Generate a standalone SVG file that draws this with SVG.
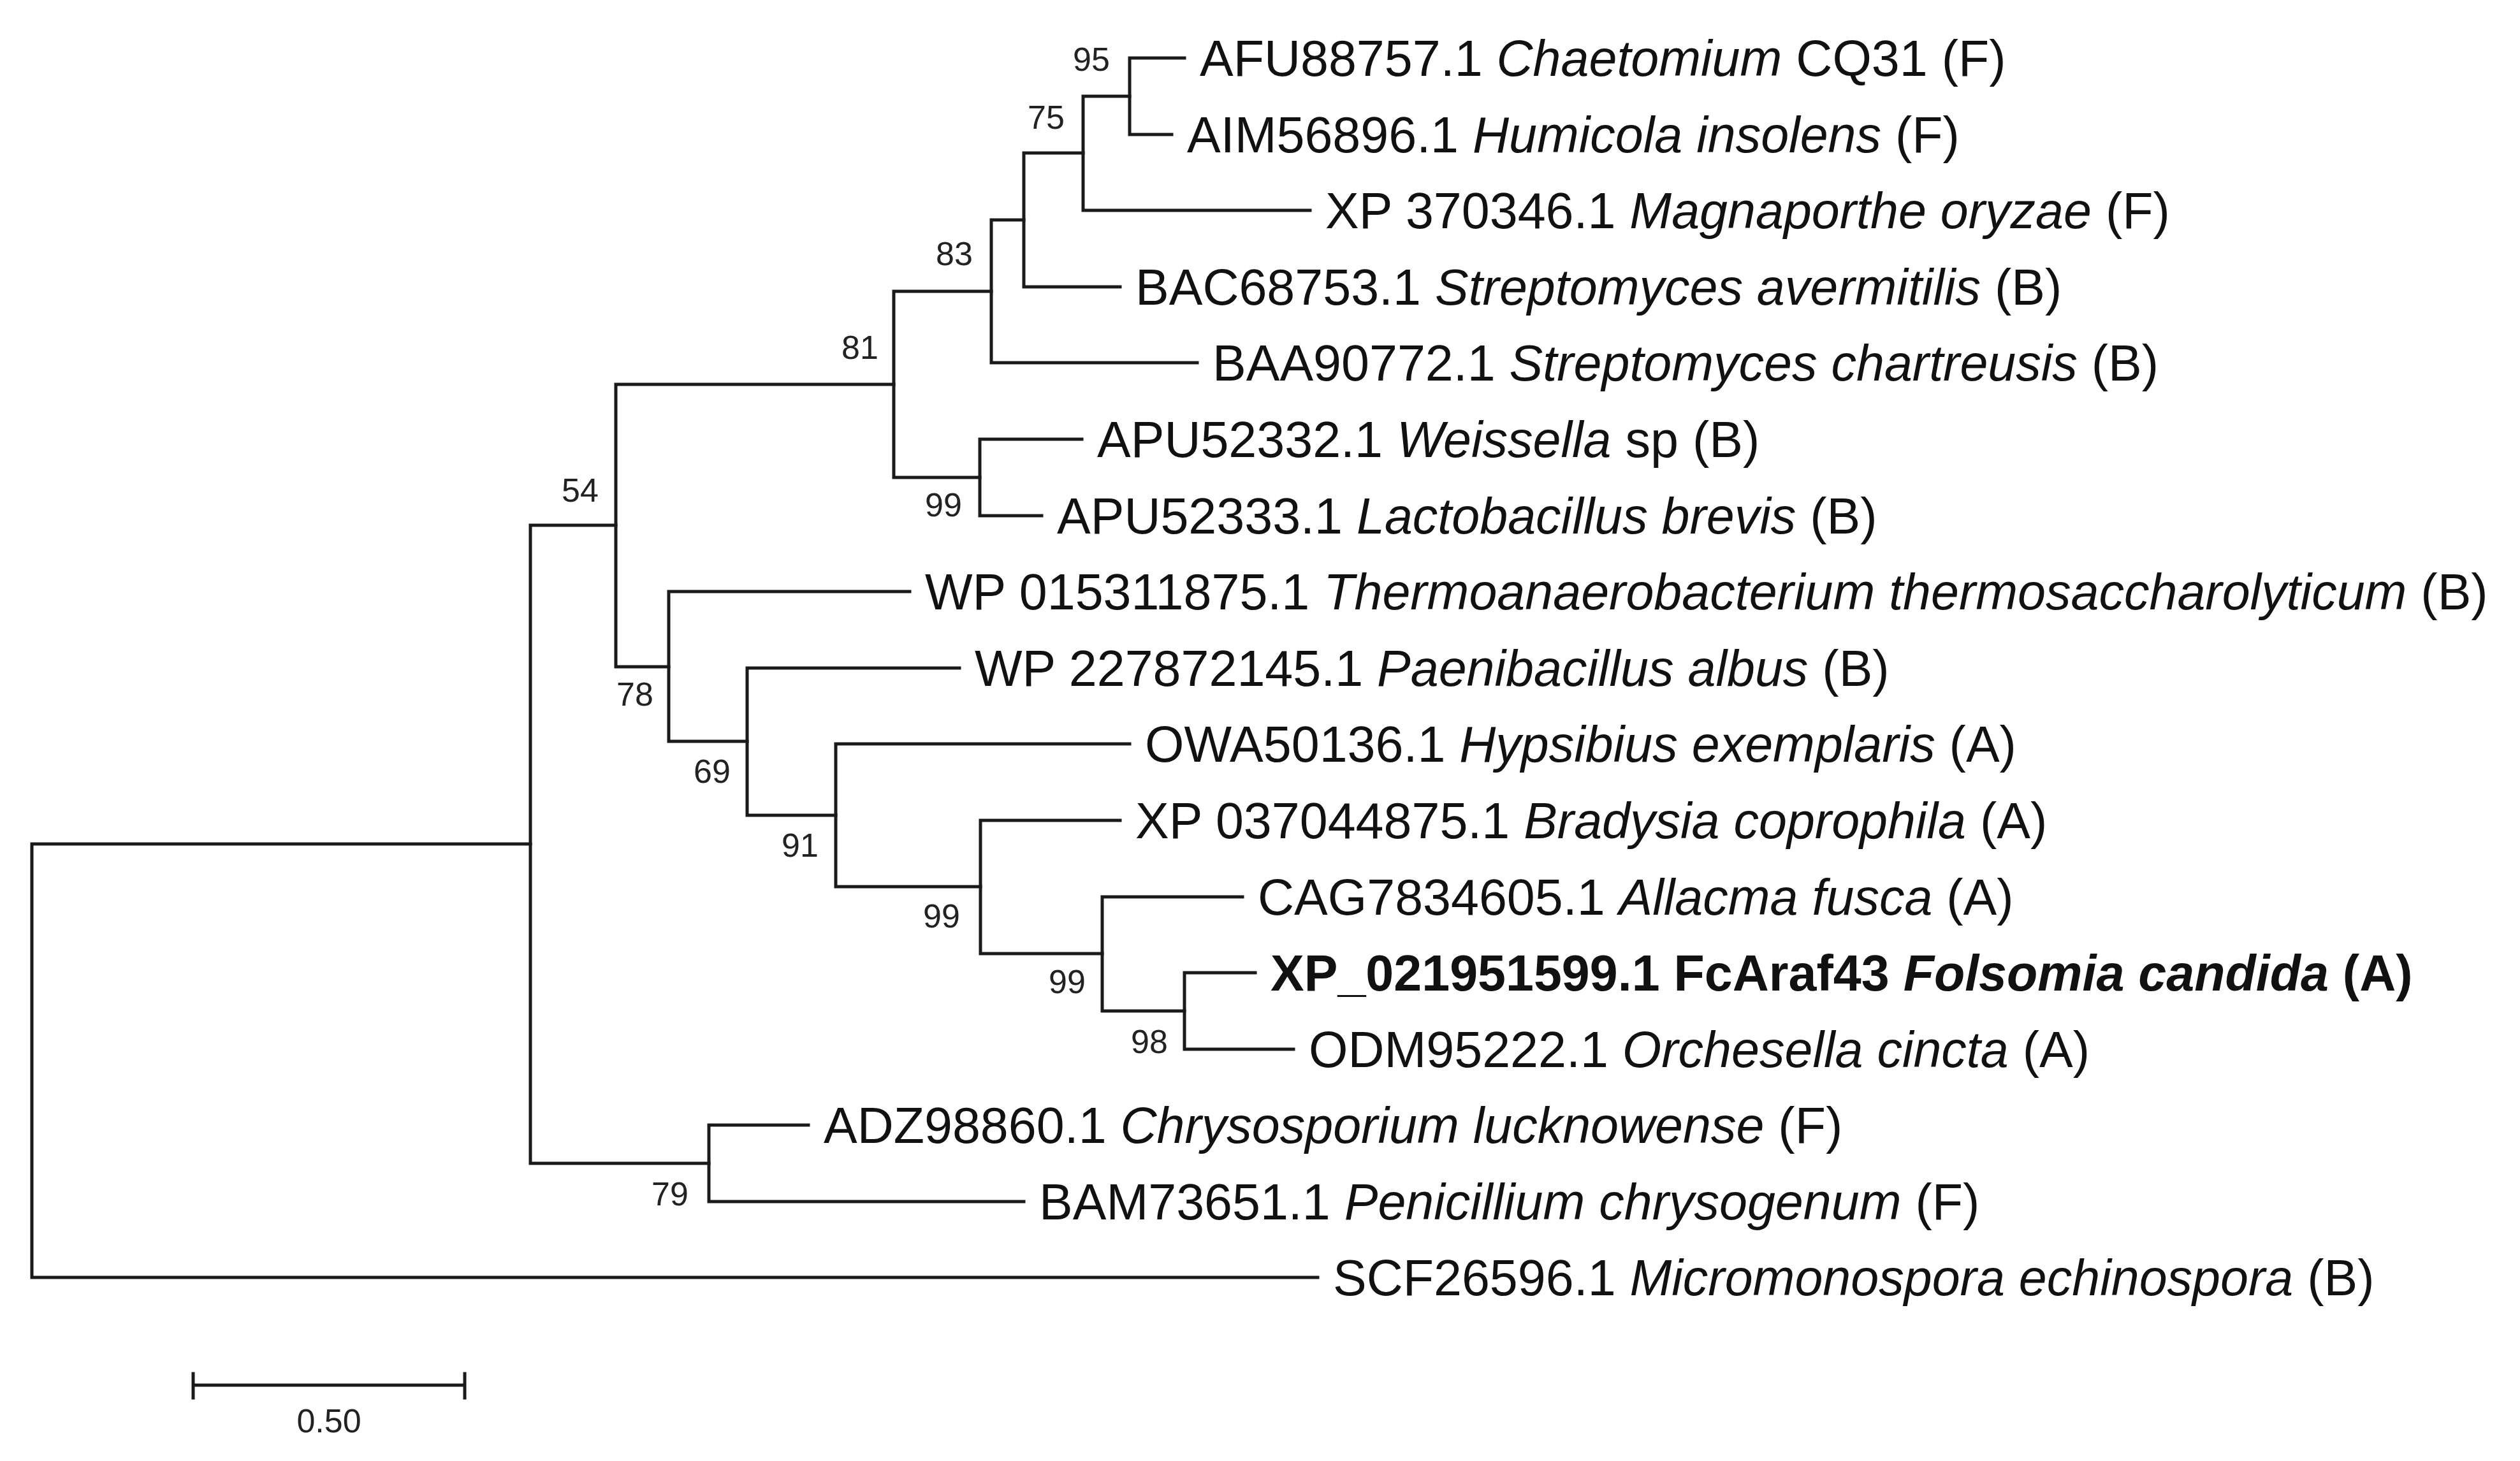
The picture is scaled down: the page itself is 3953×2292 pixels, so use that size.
<svg xmlns="http://www.w3.org/2000/svg" width="3953" height="2292" viewBox="0 0 3953 2292">
<style>
.l{fill:none;stroke:#1a1a1a;stroke-width:5;stroke-linecap:square}
.t{font-family:"Liberation Sans",Arial,sans-serif;font-size:79px;fill:#111}
.b{font-family:"Liberation Sans",Arial,sans-serif;font-size:52px;fill:#222;text-anchor:middle}
</style>
<rect width="3953" height="2292" fill="#fff"/>
<g id="connectors" class="l">
<path d="M1772,91V211M1772,91H1858M1772,211H1838"/>
<path d="M1699,151V330M1699,151H1772M1699,330H2055"/>
<path d="M1606,240V450M1606,240H1699M1606,450H1757"/>
<path d="M1555,345V569M1555,345H1606M1555,569H1878"/>
<path d="M1537,689V809M1537,689H1697M1537,809H1634"/>
<path d="M1402,457V749M1402,457H1555M1402,749H1537"/>
<path d="M1858,1526V1646M1858,1526H1969M1858,1646H2029"/>
<path d="M1729,1407V1586M1729,1407H1949M1729,1586H1858"/>
<path d="M1538,1287V1496M1538,1287H1757M1538,1496H1729"/>
<path d="M1311,1167V1391M1311,1167H1772M1311,1391H1538"/>
<path d="M1172,1048V1279M1172,1048H1505M1172,1279H1311"/>
<path d="M1049,928V1163M1049,928H1427M1049,1163H1172"/>
<path d="M966,603V1046M966,603H1402M966,1046H1049"/>
<path d="M1112,1765V1885M1112,1765H1268M1112,1885H1606"/>
<path d="M832,824V1825M832,824H966M832,1825H1112"/>
<path d="M50,1324V2004M50,1324H832M50,2004H2067"/>
<path d="M303,2173H729M303,2155V2193M729,2155V2193"/>
</g>
<g id="tips" class="t">
<text id="t1" x="1882" y="119">AFU88757.1 <tspan font-style="italic">Chaetomium</tspan> CQ31 (F)</text>
<text id="t2" x="1862" y="239">AIM56896.1 <tspan font-style="italic">Humicola insolens</tspan> (F)</text>
<text id="t3" x="2079" y="358">XP 370346.1 <tspan font-style="italic">Magnaporthe oryzae</tspan> (F)</text>
<text id="t4" x="1781" y="478">BAC68753.1 <tspan font-style="italic">Streptomyces avermitilis</tspan> (B)</text>
<text id="t5" x="1902" y="597">BAA90772.1 <tspan font-style="italic">Streptomyces chartreusis</tspan> (B)</text>
<text id="t6" x="1721" y="717">APU52332.1 <tspan font-style="italic">Weissella</tspan> sp (B)</text>
<text id="t7" x="1658" y="837">APU52333.1 <tspan font-style="italic">Lactobacillus brevis</tspan> (B)</text>
<text id="t8" x="1451" y="956">WP 015311875.1 <tspan font-style="italic">Thermoanaerobacterium thermosaccharolyticum</tspan> (B)</text>
<text id="t9" x="1529" y="1076">WP 227872145.1 <tspan font-style="italic">Paenibacillus albus</tspan> (B)</text>
<text id="t10" x="1796" y="1195">OWA50136.1 <tspan font-style="italic">Hypsibius exemplaris</tspan> (A)</text>
<text id="t11" x="1781" y="1315">XP 037044875.1 <tspan font-style="italic">Bradysia coprophila</tspan> (A)</text>
<text id="t12" x="1973" y="1435">CAG7834605.1 <tspan font-style="italic">Allacma fusca</tspan> (A)</text>
<text id="t13" x="1993" y="1554" font-weight="bold">XP_021951599.1 FcAraf43 <tspan font-style="italic">Folsomia candida</tspan> (A)</text>
<text id="t14" x="2053" y="1674">ODM95222.1 <tspan font-style="italic">Orchesella cincta</tspan> (A)</text>
<text id="t15" x="1292" y="1793">ADZ98860.1 <tspan font-style="italic">Chrysosporium lucknowense</tspan> (F)</text>
<text id="t16" x="1630" y="1913">BAM73651.1 <tspan font-style="italic">Penicillium chrysogenum</tspan> (F)</text>
<text id="t17" x="2091" y="2032">SCF26596.1 <tspan font-style="italic">Micromonospora echinospora</tspan> (B)</text>
</g>
<g id="bootstrap" class="b">
<text x="1712" y="111">95</text>
<text x="1641" y="202">75</text>
<text x="1497" y="416">83</text>
<text x="1349" y="563">81</text>
<text x="910" y="787">54</text>
<text x="1480" y="810">99</text>
<text x="996" y="1107">78</text>
<text x="1117" y="1228">69</text>
<text x="1255" y="1344">91</text>
<text x="1477" y="1455">99</text>
<text x="1674" y="1558">99</text>
<text x="1803" y="1652">98</text>
<text x="1051" y="1891">79</text>
</g>
<g id="scale"><text class="b" x="516" y="2247">0.50</text></g>
</svg>
